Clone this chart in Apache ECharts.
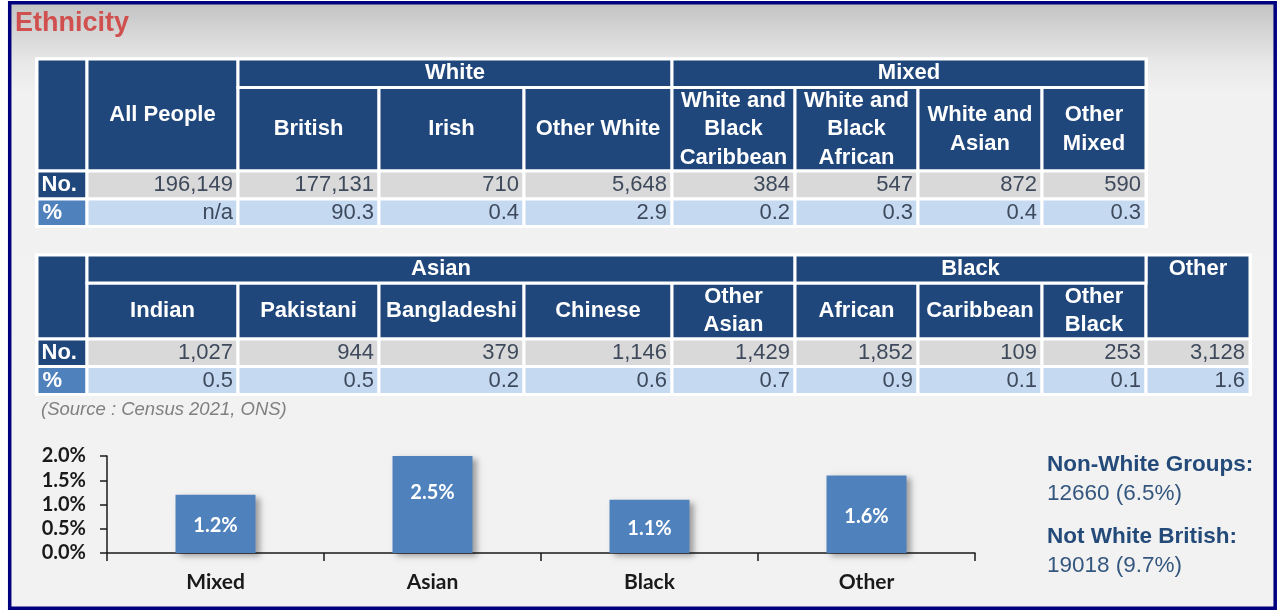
<!DOCTYPE html>
<html><head><meta charset="utf-8">
<script src="https://cdn.jsdelivr.net/npm/echarts@6/dist/echarts.min.js"></script>
<style>html,body{margin:0;padding:0;background:#fff}#c{width:1281px;height:612px}</style>
</head><body><div id="c"></div>
<script>
// ---------- DATA ----------
const titleText = 'Ethnicity';
const sourceText = '(Source : Census 2021, ONS)';

const t1Headers = ['All People', 'British', 'Irish', 'Other White', 'White and\nBlack\nCaribbean', 'White and\nBlack\nAfrican', 'White and\nAsian', 'Other\nMixed'];
const t1Groups = [['White', 1, 3], ['Mixed', 4, 7]];
const t1Counts = [196149, 177131, 710, 5648, 384, 547, 872, 590];
const t1Percents = [null, 90.3, 0.4, 2.9, 0.2, 0.3, 0.4, 0.3];

const t2Headers = ['Indian', 'Pakistani', 'Bangladeshi', 'Chinese', 'Other\nAsian', 'African', 'Caribbean', 'Other\nBlack', ''];
const t2Groups = [['Asian', 0, 4], ['Black', 5, 7], ['Other', 8, 8]];
const t2Counts = [1027, 944, 379, 1146, 1429, 1852, 109, 253, 3128];
const t2Percents = [0.5, 0.5, 0.2, 0.6, 0.7, 0.9, 0.1, 0.1, 1.6];

const rowLabels = ['No.', '%'];

const barCategories = ['Mixed', 'Asian', 'Black', 'Other'];
const barValues = [1.2, 2.5, 1.1, 1.6];
const yMin = 0, yMax = 2.0, yInterval = 0.5;

const summaryLabels = ['Non-White Groups:', 'Not White British:'];
const summaryCounts = [12660, 19018];
const summaryPercents = [6.5, 9.7];

// ---------- LAYOUT / STYLE ----------
const colEdges1 = [37, 87, 238, 379, 524, 672, 795, 918, 1042, 1146];
const rowEdges1 = [59, 87.5, 171, 199, 226.5];
const colEdges2 = colEdges1.concat([1250]);
const rowEdges2 = [255, 283, 339, 366.5, 394.5];

const HEAD = '#1f477b', MID = '#4f81bd', GRAY = '#d9d9d9', LIGHT = '#c5d9f1';
const DATA_TXT = '#3e4a5c';
const FF = '"Liberation Sans", Arial, sans-serif';
const CF = 'Lato, "Open Sans", sans-serif';

const grid = { left: 107, top: 456, width: 868, height: 97 };

function buildTable(headers, groups, counts, pcts, cols, rows) {
  const rects = [], texts = [];
  const L = cols[0], R = cols[cols.length - 1], T = rows[0], B = rows[rows.length - 1];
  rects.push({ type: 'rect', shape: { x: L - 2, y: T - 1.5, width: R - L + 4, height: B - T + 3 }, style: { fill: '#fff' } });
  const cell = (x0, y0, x1, y1, fill) => rects.push({ type: 'rect', shape: { x: x0, y: y0, width: x1 - x0, height: y1 - y0 }, style: { fill, stroke: '#fff', lineWidth: 3 } });
  const txt = (s, x, y, bold, fill, align) => texts.push({ type: 'text', z: 10, style: { text: s, x, y, fontFamily: FF, fontSize: 22, fontWeight: bold ? 'bold' : 'normal', fill, align, verticalAlign: 'middle', lineHeight: 28.5 } });
  cell(cols[0], rows[0], cols[1], rows[2], HEAD);
  cell(cols[0], rows[2], cols[1], rows[3], HEAD);
  cell(cols[0], rows[3], cols[1], rows[4], MID);
  txt(rowLabels[0], cols[0] + 4.5, (rows[2] + rows[3]) / 2, true, '#fff', 'left');
  txt(rowLabels[1], cols[0] + 5.5, (rows[3] + rows[4]) / 2, true, '#fff', 'left');
  headers.forEach((h, i) => {
    const x0 = cols[i + 1], x1 = cols[i + 2];
    const g = groups.find(g => i >= g[1] && i <= g[2]);
    if (!g) {
      cell(x0, rows[0], x1, rows[2], HEAD);
      txt(h, (x0 + x1) / 2, (rows[0] + rows[2]) / 2, true, '#fff', 'center');
    } else if (h === '') {
      cell(x0, rows[0], x1, rows[2], HEAD);
    } else {
      cell(x0, rows[1], x1, rows[2], HEAD);
      txt(h, (x0 + x1) / 2, (rows[1] + rows[2]) / 2, true, '#fff', 'center');
    }
    cell(x0, rows[2], x1, rows[3], GRAY);
    txt(counts[i].toLocaleString('en-US'), x1 - 5, (rows[2] + rows[3]) / 2, false, DATA_TXT, 'right');
    cell(x0, rows[3], x1, rows[4], LIGHT);
    txt(pcts[i] == null ? 'n/a' : pcts[i].toFixed(1), x1 - 5, (rows[3] + rows[4]) / 2, false, DATA_TXT, 'right');
  });
  groups.forEach(g => {
    const x0 = cols[g[1] + 1], x1 = cols[g[2] + 2];
    const merged = g[1] === g[2] && headers[g[1]] === '';
    if (!merged) cell(x0, rows[0], x1, rows[1], HEAD);
    txt(g[0], (x0 + x1) / 2, (rows[0] + rows[1]) / 2, true, '#fff', 'center');
  });
  return rects.concat(texts);
}

const graphics = [];
graphics.push({
  type: 'rect', z: -10, shape: { x: 9.5, y: 2.5, width: 1266, height: 606 },
  style: { fill: { type: 'linear', x: 0, y: 0, x2: 0, y2: 1, colorStops: [
    { offset: 0, color: '#c2c2c2' }, { offset: 0.05, color: '#d6d6d6' }, { offset: 0.1, color: '#e8e8e8' },
    { offset: 0.15, color: '#f1f1f1' }, { offset: 1, color: '#f2f2f2' }] } }
});
graphics.push(...buildTable(t1Headers, t1Groups, t1Counts, t1Percents, colEdges1, rowEdges1));
graphics.push(...buildTable(t2Headers, t2Groups, t2Counts, t2Percents, colEdges2, rowEdges2));
graphics.push({ type: 'text', z: 10, style: { text: titleText, x: 15, y: 24, fontFamily: FF, fontSize: 27, fontWeight: 'bold', fill: '#d05050', verticalAlign: 'middle' } });
graphics.push({ type: 'text', z: 10, style: { text: sourceText, x: 41, y: 410, fontFamily: FF, fontSize: 18.5, fontStyle: 'italic', fill: '#808080', verticalAlign: 'middle' } });
summaryLabels.forEach((s, i) => {
  const y0 = 465 + i * 72;
  graphics.push({ type: 'text', z: 10, style: { text: s, x: 1047, y: y0, fontFamily: FF, fontSize: 22.5, fontWeight: 'bold', fill: '#244a79', verticalAlign: 'middle' } });
  graphics.push({ type: 'text', z: 10, style: { text: summaryCounts[i] + ' (' + summaryPercents[i].toFixed(1) + '%)', x: 1047, y: y0 + 29, fontFamily: FF, fontSize: 22.5, fill: '#35577f', verticalAlign: 'middle' } });
});
graphics.push({ type: 'rect', z: 20, shape: { x: 9.7, y: 2.7, width: 1265.5, height: 605.5 }, style: { fill: 'none', stroke: '#00007f', lineWidth: 3.5 } });

const pxPerUnit = grid.height / (yMax - yMin);
const barData = barValues.map(v => v > yMax ? { value: v, label: { offset: [0, -((v - yMax) / 2) * pxPerUnit] } } : v);

const chart = echarts.init(document.getElementById('c'), null, { renderer: 'canvas' });
chart.setOption({
  backgroundColor: '#ffffff',
  animation: false,
  graphic: { elements: graphics },
  grid: grid,
  xAxis: {
    type: 'category', data: barCategories,
    axisLine: { lineStyle: { color: '#1a1a1a', width: 1.5 } },
    axisTick: { show: true, length: 8, lineStyle: { color: '#1a1a1a', width: 1.5 } },
    axisLabel: { margin: 19, color: '#1a1a1a', fontFamily: CF, fontWeight: 'bold', fontSize: 21 }
  },
  yAxis: {
    type: 'value', min: yMin, max: yMax, interval: yInterval,
    axisLine: { show: true, lineStyle: { color: '#1a1a1a', width: 1.5 } },
    axisTick: { show: true, length: 7, lineStyle: { color: '#1a1a1a', width: 1.5 } },
    splitLine: { show: false },
    axisLabel: { margin: 21, color: '#1a1a1a', fontFamily: CF, fontWeight: 'bold', fontSize: 20, formatter: v => v.toFixed(1) + '%' }
  },
  series: [{
    type: 'bar', data: barData, barWidth: 80, clip: true,
    itemStyle: { color: '#4f81bd', shadowColor: 'rgba(0,0,0,0.35)', shadowBlur: 6, shadowOffsetX: 4, shadowOffsetY: 3 },
    label: { show: true, position: 'inside', offset: [0, 2], color: '#fff', fontFamily: CF, fontWeight: 'bold', fontSize: 20, formatter: p => p.value.toFixed(1) + '%' }
  }]
});
</script></body></html>
